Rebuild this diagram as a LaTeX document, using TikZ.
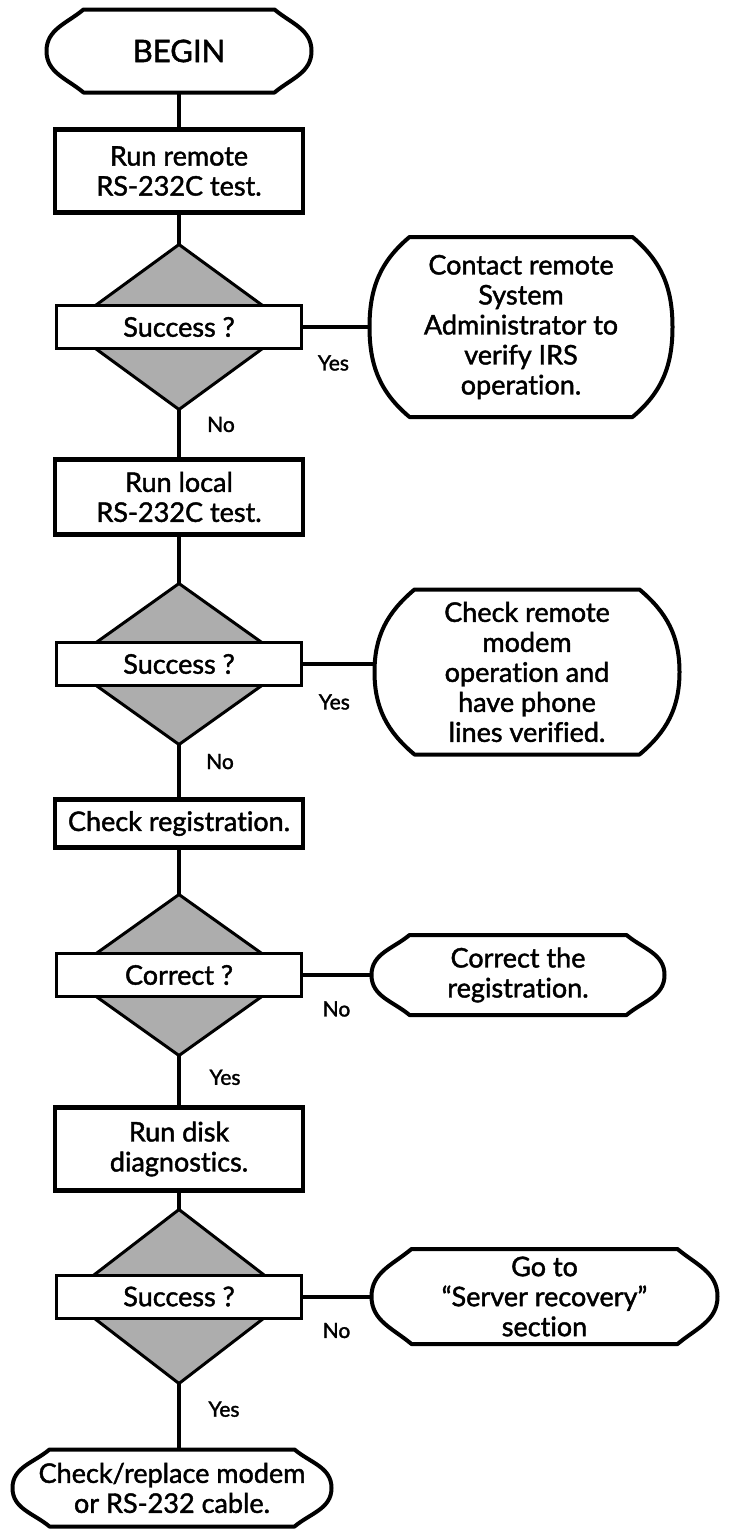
\documentclass[tikz,border=0pt]{standalone}
\usepackage{fontspec}
\setmainfont{Lato}[Ligatures=NoCommon,FakeBold=1.6]
\usetikzlibrary{shapes.geometric,positioning,calc}

\newcommand{\txtfont}{\fontsize{27}{30}\selectfont}
\newcommand{\lblfont}{\fontsize{21}{24}\selectfont}

% terminal outline: flat top and bottom, bulging ends
\newcommand{\termoutline}[2]{%
  \draw[termline] ($(#1.north west)+(#2,0)$) -- ($(#1.north east)+(-#2,0)$)
    to[out=-40,in=90] (#1.east) to[out=-90,in=40] ($(#1.south east)+(-#2,0)$)
    -- ($(#1.south west)+(#2,0)$) to[out=140,in=-90] (#1.west)
    to[out=90,in=220] ($(#1.north west)+(#2,0)$) -- cycle;}

\begin{document}
\begin{tikzpicture}[x=1pt,y=1pt,
  termnode/.style={rectangle,inner sep=0pt,outer sep=0pt,align=center,font=\txtfont},
  termline/.style={draw,line width=4pt,line join=round},
  box/.style={rectangle,draw,line width=4.5pt,inner sep=0pt,outer sep=0pt,
              minimum width=248pt,align=center,font=\txtfont},
  decision/.style={diamond,draw,line width=3pt,fill=black!32,inner sep=0pt,
                   outer sep=0pt,minimum width=226pt},
  query/.style={rectangle,draw,line width=3pt,fill=white,inner sep=0pt,outer sep=0pt,
                minimum width=245pt,minimum height=43pt,font=\txtfont},
  line/.style={draw,line width=4pt},
  lbl/.style={font=\lblfont,inner sep=0pt}]
\useasboundingbox (0,0) rectangle (736,-1531);

\node[termnode,minimum width=265pt,minimum height=83pt,font=\fontsize{31}{34}\selectfont] (begin) at (179,-51) {BEGIN};
\node[box,minimum height=83pt,below=37pt of begin] (runremote) {Run remote\\RS-232C test.};
\node[decision,minimum height=165pt,below=32pt of runremote] (d1) {};
\node[query] (q1) at (d1) {Success ?};
\node[termnode,minimum width=303pt,minimum height=180pt,right=68pt of q1] (contact)
  {Contact remote\\System\\Administrator to\\verify IRS\\operation.};

\node[box,minimum height=75pt,below=50pt of d1] (runlocal) {Run local\\RS-232C test.};
\node[decision,minimum height=161pt,below=49pt of runlocal] (d2) {};
\node[query] (q2) at (d2) {Success ?};
\node[termnode,minimum width=305pt,minimum height=165pt,right=73pt of q2,yshift=-8pt] (checkmodem)
  {Check remote\\modem\\operation and\\have phone\\lines verified.};

\node[box,minimum height=48pt,below=55pt of d2] (checkreg) {Check registration.};
\node[decision,minimum height=161pt,below=47pt of checkreg] (d3) {};
\node[query] (q3) at (d3) {Correct ?};
\node[termnode,minimum width=293pt,minimum height=80pt,right=70pt of q3] (fixreg)
  {Correct the\\registration.};

\node[box,minimum height=83pt,below=52pt of d3] (rundisk) {Run disk\\diagnostics.};
\node[decision,minimum height=174pt,below=19pt of rundisk] (d4) {};
\node[query] (q4) at (d4) {Success ?};
\node[termnode,minimum width=346pt,minimum height=95pt,right=70pt of q4] (recovery)
  {Go to\\``Server recovery''\\section};

\node[termnode,minimum width=319pt,minimum height=77pt,below=66pt of d4,xshift=-7pt] (endterm)
  {Check/replace modem\\or RS-232 cable.};

\termoutline{begin}{37}
\termoutline{contact}{40}
\termoutline{checkmodem}{40}
\termoutline{fixreg}{38}
\termoutline{recovery}{40}
\termoutline{endterm}{37}

\path[line] (begin) -- (runremote);
\path[line] (runremote) -- (d1);
\path[line] (d1) -- node[lbl,pos=0.3,xshift=42pt]{No} (runlocal);
\path[line] (q1) -- node[lbl,pos=0.47,yshift=-36pt]{Yes} (contact);
\path[line] (runlocal) -- (d2);
\path[line] (d2) -- node[lbl,pos=0.31,xshift=41pt]{No} (checkreg);
\path[line] (q2.east) -- node[lbl,pos=0.45,yshift=-38pt]{Yes} (q2.east -| checkmodem.west);
\path[line] (checkreg) -- (d3);
\path[line] (d3) -- node[lbl,pos=0.42,xshift=46pt]{Yes} (rundisk);
\path[line] (q3) -- node[lbl,pos=0.5,yshift=-34pt]{No} (fixreg);
\path[line] (rundisk) -- (d4);
\path[line] (d4.south) -- node[lbl,pos=0.39,xshift=45pt]{Yes} (d4.south |- endterm.north);
\path[line] (q4) -- node[lbl,pos=0.5,yshift=-34pt]{No} (recovery);
\end{tikzpicture}
\end{document}
